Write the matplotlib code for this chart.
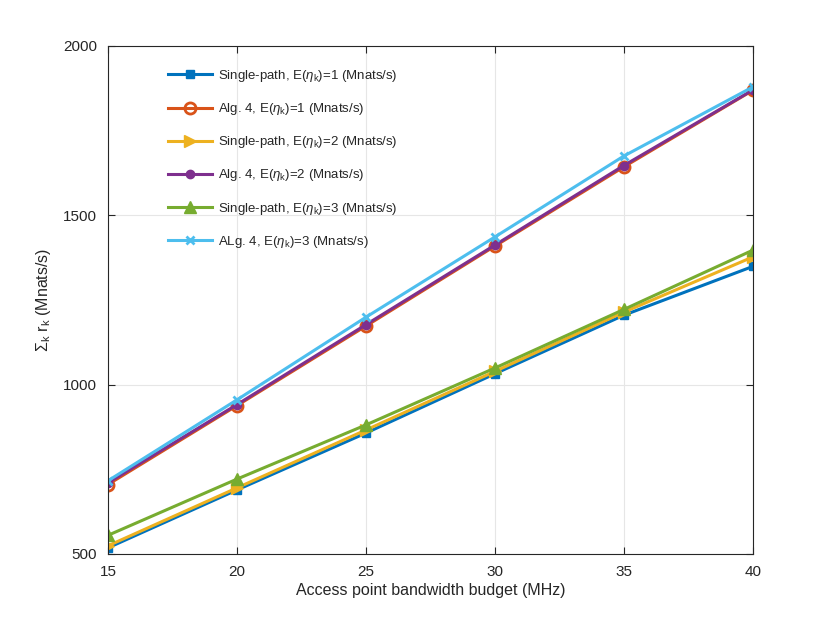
import matplotlib
matplotlib.use("Agg")
import matplotlib.pyplot as plt

plt.rcParams['font.family'] = ['Liberation Sans', 'DejaVu Sans']
plt.rcParams['mathtext.fontset'] = 'custom'
plt.rcParams['mathtext.rm'] = 'Liberation Sans'
plt.rcParams['mathtext.it'] = 'Liberation Sans:italic'
plt.rcParams['mathtext.sf'] = 'Liberation Sans'

bandwidth = [15, 20, 25, 30, 35, 40]
sp_eta1 = [518, 689, 857, 1032, 1205, 1349]
alg_eta1 = [705, 938, 1173, 1409, 1643, 1869]
sp_eta2 = [524, 695, 866, 1039, 1214, 1377]
alg_eta2 = [710, 941, 1177, 1412, 1647, 1870]
sp_eta3 = [555, 721, 881, 1049, 1222, 1397]
alg_eta3 = [716, 955, 1199, 1436, 1675, 1879]

labels = [
    r'Single-path, E($\eta_{\rm k}$)=1 (Mnats/s)',
    r'Alg. 4, E($\eta_{\rm k}$)=1 (Mnats/s)',
    r'Single-path, E($\eta_{\rm k}$)=2 (Mnats/s)',
    r'Alg. 4, E($\eta_{\rm k}$)=2 (Mnats/s)',
    r'Single-path, E($\eta_{\rm k}$)=3 (Mnats/s)',
    r'ALg. 4, E($\eta_{\rm k}$)=3 (Mnats/s)',
]

fig = plt.figure(figsize=(8.3, 6.23), dpi=100)
ax = fig.add_axes([0.130, 0.1108, 0.777, 0.8154])

lw = 2.2
ax.plot(bandwidth, sp_eta1, color='#0072BD', lw=lw, marker='s', ms=6, label=labels[0])
ax.plot(bandwidth, alg_eta1, color='#D95319', lw=lw, marker='o', ms=8, mfc='none', mew=2, label=labels[1])
ax.plot(bandwidth, sp_eta2, color='#EDB120', lw=lw, marker='>', ms=9, label=labels[2])
ax.plot(bandwidth, alg_eta2, color='#7E2F8E', lw=lw, marker='o', ms=6, label=labels[3])
ax.plot(bandwidth, sp_eta3, color='#77AC30', lw=lw, marker='^', ms=9, label=labels[4])
ax.plot(bandwidth, alg_eta3, color='#4DBEEE', lw=lw, marker='x', ms=6, mew=2, label=labels[5])

ax.set_xlim(15, 40)
ax.set_ylim(500, 2000)
ax.set_xticks([15, 20, 25, 30, 35, 40])
ax.set_yticks([500, 1000, 1500, 2000])
ax.grid(True, color='#e6e6e6', lw=0.8)
ax.set_axisbelow(True)
ax.tick_params(direction='in', labelsize=11, colors='#262626', length=5, pad=8,
               top=True, right=True)
for s in ax.spines.values():
    s.set_color('#262626')
    s.set_linewidth(0.8)

ax.set_xlabel('Access point bandwidth budget (MHz)', fontsize=11.5, color='#262626', labelpad=3)
ax.set_ylabel(r'$\Sigma_{\rm k}$ r$_{\rm k}$ (Mnats/s)', fontsize=11.5, color='#262626', labelpad=7)

leg = ax.legend(loc='upper left', bbox_to_anchor=(0.075, 0.98), frameon=False,
                fontsize=9.5, labelspacing=1.3, handlelength=3.3, handletextpad=0.5)
for t in leg.get_texts():
    t.set_color('#262626')

fig.savefig('out.png', dpi=100)
